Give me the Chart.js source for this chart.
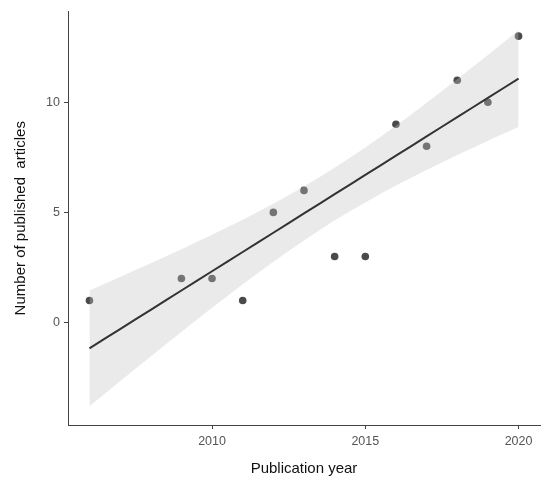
<!DOCTYPE html>
<html>
<head>
<meta charset="utf-8">
<script src="https://cdn.jsdelivr.net/npm/chart.js@4.4.1/dist/chart.umd.min.js"></script>
<style>
  html, body { margin: 0; padding: 0; background: #fff; }
  #wrap { width: 550px; height: 487px; }
</style>
</head>
<body>
<div id="wrap"><canvas id="c" width="550" height="487"></canvas></div>
<script>
// datos
const years = [2006, 2009, 2010, 2011, 2012, 2013, 2014, 2015, 2016, 2017, 2018, 2019, 2020];
const articles = [1, 2, 2, 1, 5, 6, 3, 3, 9, 8, 11, 10, 13];
const xTicks = [2010, 2015, 2020];
const yTicks = [0, 5, 10];

// ajuste lineal + IC 95% (como geom_smooth(method = "lm"))
const n = years.length;
const mx = years.reduce((a, b) => a + b, 0) / n;
const my = articles.reduce((a, b) => a + b, 0) / n;
let sxx = 0, sxy = 0;
years.forEach((x, i) => { sxx += (x - mx) ** 2; sxy += (x - mx) * (articles[i] - my); });
const slope = sxy / sxx;
const icpt = my - slope * mx;
let sse = 0;
years.forEach((x, i) => { sse += (articles[i] - (icpt + slope * x)) ** 2; });
const s = Math.sqrt(sse / (n - 2));
const tCrit = 2.201; // qt(0.975, 11)

const fitX = [];
for (let x = years[0]; x <= years[n - 1] + 1e-9; x += 0.5) fitX.push(x);
const fit = fitX.map(x => ({ x, y: icpt + slope * x }));
const half = x => tCrit * s * Math.sqrt(1 / n + (x - mx) ** 2 / sxx);
const upper = fitX.map(x => ({ x, y: icpt + slope * x + half(x) }));
const lower = fitX.map(x => ({ x, y: icpt + slope * x - half(x) }));
const pts = years.map((x, i) => ({ x, y: articles[i] }));

const FONT = "'Liberation Sans', Arial, sans-serif";

new Chart(document.getElementById("c").getContext("2d"), {
  type: "scatter",
  data: {
    datasets: [
      { data: pts, order: 4, backgroundColor: "#4a4a4a", borderWidth: 0, pointRadius: 3.8, showLine: false },
      { data: upper, order: 3, showLine: true, pointRadius: 0, borderWidth: 0, borderColor: "rgba(0,0,0,0)",
        fill: "+1", backgroundColor: "rgba(195,195,195,0.35)" },
      { data: lower, order: 2, showLine: true, pointRadius: 0, borderWidth: 0, borderColor: "rgba(0,0,0,0)", fill: false },
      { data: fit, order: 1, showLine: true, pointRadius: 0, borderWidth: 2, borderColor: "#333333", fill: false },
    ],
  },
  options: {
    responsive: false,
    animation: false,
    layout: { padding: { top: 10, right: 10, left: 8, bottom: 5 } },
    plugins: { legend: { display: false }, tooltip: { enabled: false } },
    scales: {
      x: {
        type: "linear", min: 2005.3, max: 2020.7,
        afterBuildTicks: ax => { ax.ticks = xTicks.map(v => ({ value: v })); },
        afterFit: ax => { ax.height = 57; },
        border: { display: true, color: "#444", width: 1 },
        grid: { drawOnChartArea: false, tickLength: 4, color: "#444" },
        ticks: { color: "#555", font: { family: FONT, size: 12.5 }, padding: 5, callback: v => String(v) },
        title: { display: true, text: "Publication year", color: "#111", font: { family: FONT, size: 15 }, padding: { top: 4 } },
      },
      y: {
        type: "linear", min: -4.65, max: 14.12,
        afterBuildTicks: ax => { ax.ticks = yTicks.map(v => ({ value: v })); },
        afterFit: ax => { ax.width = 60; },
        border: { display: true, color: "#444", width: 1 },
        grid: { drawOnChartArea: false, tickLength: 4, color: "#444" },
        ticks: { color: "#555", font: { family: FONT, size: 12.5 }, padding: 4, callback: v => String(v) },
        title: { display: true, text: "Number of published  articles", color: "#111", font: { family: FONT, size: 15 }, padding: { bottom: 6 } },
      },
    },
  },
});
</script>
</body>
</html>
